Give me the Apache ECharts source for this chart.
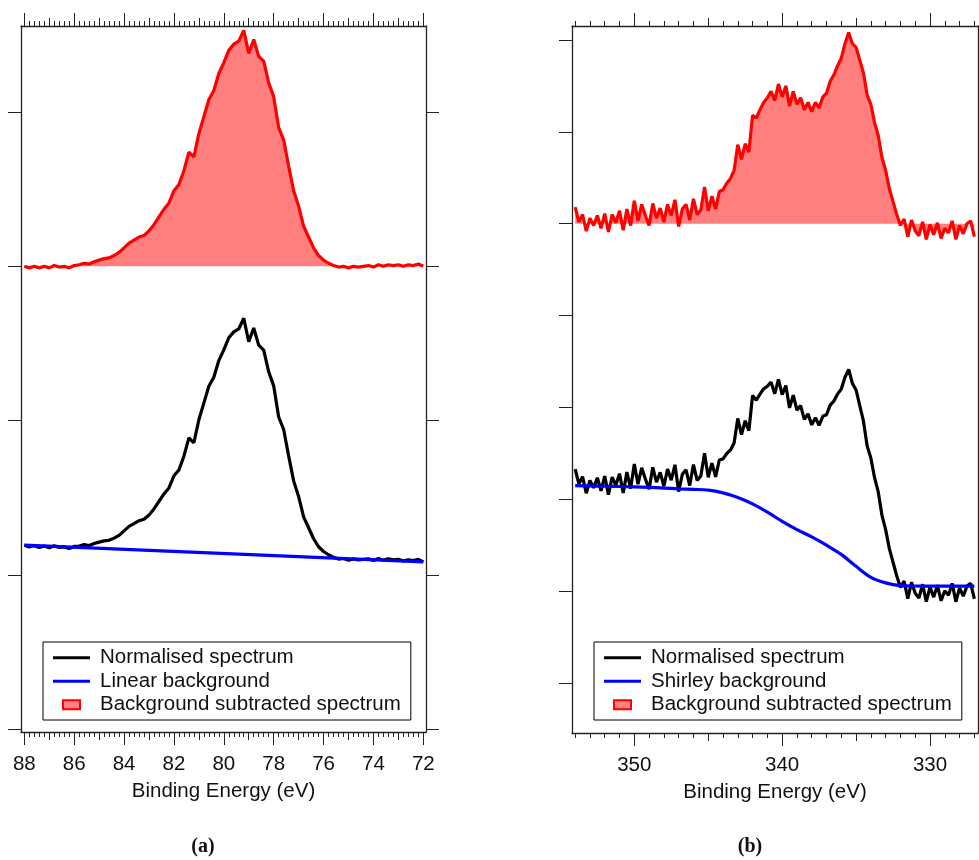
<!DOCTYPE html>
<html><head><meta charset="utf-8">
<script src="https://cdn.jsdelivr.net/npm/echarts@6/dist/echarts.min.js"></script>
<style>html,body{margin:0;padding:0;background:#fff}#c{width:979px;height:860px}</style>
</head><body><div id="c"></div>
<script>
// ---------------- DATA ----------------
// Panel (a): binding energies 88 -> 72 eV, 0.2 eV step
const energyA = Array.from({length: 81}, (_, i) => +(88 - 0.2 * i).toFixed(1));
const normA = [
  1.192, 1.181, 1.189, 1.178, 1.187, 1.175, 1.189, 1.178, 1.181, 1.170,
  1.184, 1.187, 1.196, 1.190, 1.203, 1.212, 1.220, 1.224, 1.238, 1.256,
  1.285, 1.314, 1.332, 1.351, 1.360, 1.388, 1.427, 1.476, 1.524, 1.563,
  1.642, 1.680, 1.769, 1.888, 1.856, 2.005, 2.113, 2.222, 2.281, 2.389,
  2.458, 2.537, 2.575, 2.594, 2.663, 2.511, 2.600, 2.489, 2.457, 2.316,
  2.225, 2.023, 1.942, 1.771, 1.609, 1.508, 1.376, 1.305, 1.234, 1.182,
  1.151, 1.130, 1.113, 1.102, 1.106, 1.094, 1.103, 1.097, 1.100, 1.104,
  1.093, 1.106, 1.095, 1.104, 1.097, 1.101, 1.089, 1.098, 1.092, 1.100,
  1.084
];
const subA = [
  3.000, 2.990, 3.000, 2.990, 3.000, 2.990, 3.005, 2.995, 3.000, 2.990,
  3.005, 3.010, 3.020, 3.015, 3.030, 3.040, 3.050, 3.055, 3.070, 3.090,
  3.120, 3.150, 3.170, 3.190, 3.200, 3.230, 3.270, 3.320, 3.370, 3.410,
  3.490, 3.530, 3.620, 3.740, 3.710, 3.860, 3.970, 4.080, 4.140, 4.250,
  4.320, 4.400, 4.440, 4.460, 4.530, 4.380, 4.470, 4.360, 4.330, 4.190,
  4.100, 3.900, 3.820, 3.650, 3.490, 3.390, 3.260, 3.190, 3.120, 3.070,
  3.040, 3.020, 3.005, 2.995, 3.000, 2.990, 3.000, 2.995, 3.000, 3.005,
  2.995, 3.010, 3.000, 3.010, 3.005, 3.010, 3.000, 3.010, 3.005, 3.015,
  3.000
];
const subBaseA = 3;
const linBgX = [88, 72];
const linBgY = [1.192, 1.084];

// Panel (b): binding energies 354 -> 327 eV, 0.25 eV step
const energyB = Array.from({length: 109}, (_, i) => +(354 - 0.25 * i).toFixed(2));
const normB = [
  2.328, 2.167, 2.247, 2.066, 2.205, 2.124, 2.234, 2.093,
  2.252, 2.051, 2.241, 2.150, 2.279, 2.068, 2.297, 2.116,
  2.385, 2.164, 2.343, 2.221, 2.110, 2.348, 2.186, 2.294,
  2.142, 2.330, 2.208, 2.376, 2.084, 2.273, 2.321, 2.150,
  2.378, 2.206, 2.254, 2.502, 2.240, 2.393, 2.245, 2.428,
  2.440, 2.498, 2.535, 2.613, 2.880, 2.703, 2.855, 2.748,
  3.130, 3.078, 3.145, 3.203, 3.230, 3.275, 3.150, 3.305,
  3.140, 3.238, 2.995, 3.133, 2.970, 3.020, 2.870, 2.930,
  2.810, 2.888, 2.805, 2.903, 2.920, 3.025, 3.070, 3.145,
  3.200, 3.328, 3.415, 3.263, 3.190, 3.020, 2.850, 2.580,
  2.450, 2.235, 2.080, 1.825, 1.670, 1.463, 1.315, 1.168,
  1.040, 1.109, 0.918, 1.097, 0.976, 0.925, 1.075, 0.885,
  1.045, 0.935, 1.065, 0.895, 1.005, 0.955, 1.085, 0.885,
  1.035, 0.945, 1.055, 1.085, 0.915
];
const subB = [
  5.18, 5.02, 5.10, 4.92, 5.06, 4.98, 5.09, 4.95,
  5.11, 4.91, 5.10, 5.01, 5.14, 4.93, 5.16, 4.98,
  5.25, 5.03, 5.21, 5.09, 4.98, 5.22, 5.06, 5.17,
  5.02, 5.21, 5.09, 5.26, 4.97, 5.16, 5.21, 5.04,
  5.27, 5.10, 5.15, 5.40, 5.14, 5.30, 5.16, 5.35,
  5.37, 5.44, 5.49, 5.58, 5.86, 5.70, 5.87, 5.78,
  6.18, 6.15, 6.24, 6.32, 6.37, 6.44, 6.34, 6.52,
  6.38, 6.50, 6.28, 6.44, 6.30, 6.37, 6.24, 6.32,
  6.22, 6.32, 6.26, 6.38, 6.42, 6.55, 6.62, 6.72,
  6.80, 6.96, 7.08, 6.96, 6.92, 6.78, 6.64, 6.40,
  6.30, 6.10, 5.96, 5.72, 5.58, 5.38, 5.24, 5.10,
  4.98, 5.05, 4.86, 5.04, 4.92, 4.87, 5.02, 4.83,
  4.99, 4.88, 5.01, 4.84, 4.95, 4.90, 5.03, 4.83,
  4.98, 4.89, 5.00, 5.03, 4.86
];
const subBaseB = 5;
const shirleyX = [354, 353, 352, 351, 350, 349, 348, 347, 346, 345, 344, 343, 342, 341,
                  340, 339, 338, 337, 336, 335, 334, 333, 332, 331, 330, 329, 328, 327];
const shirleyY = [2.148, 2.145, 2.142, 2.139, 2.135, 2.130, 2.122, 2.114, 2.108, 2.100, 2.070, 2.020, 1.950, 1.860,
                  1.760, 1.670, 1.590, 1.500, 1.400, 1.270, 1.150, 1.090, 1.060, 1.056, 1.055, 1.055, 1.055, 1.055];

// tick labels
const tickLabelsA = [88, 86, 84, 82, 80, 78, 76, 74, 72];
const midTicksA = [87, 85, 83, 81, 79, 77, 75, 73];
const tickLabelsB = [350, 340, 330];
const midTicksB = [350, 345, 340, 335, 330];
const yTicksA = [0, 1, 2, 3, 4];
const yTicksB = [0, 1, 2, 3, 4, 5, 6, 7];
const minorTicksA = Array.from({length: 81}, (_, i) => +(72 + 0.2 * i).toFixed(1));
const minorTicksB = Array.from({length: 28}, (_, i) => 327 + i);

const xTitle = 'Binding Energy (eV)';
const nameNorm = 'Normalised spectrum';
const nameLin = 'Linear background';
const nameShirley = 'Shirley background';
const nameSub = 'Background subtracted spectrum';
const captions = ['(a)', '(b)'];

// ---------------- CHART ----------------
const FONT = '"Liberation Sans", Arial, sans-serif';
const FRAME = '#222';
const zip = (xs, ys) => xs.map((x, i) => [x, ys[i]]);

function xAxesFor(grid, min, max, major, mid, minor) {
  const base = {type: 'value', gridIndex: grid, min, max, inverse: true, splitLine: {show: false}};
  const mk = (pos, vals, len, main) => Object.assign({}, base, {
    position: pos,
    axisLine: {show: main, onZero: false, lineStyle: {color: FRAME, width: 1.3}},
    axisTick: {show: true, customValues: vals, length: len, lineStyle: {color: FRAME, width: 1}},
    axisLabel: (main && pos === 'bottom') ? {show: true, customValues: major, margin: 22,
        fontFamily: FONT, fontSize: 20.5, color: '#111', lineHeight: 21} : {show: false},
    name: (main && pos === 'bottom') ? xTitle : '',
    nameLocation: 'middle', nameGap: 49,
    nameTextStyle: {fontFamily: FONT, fontSize: 20.5, color: '#111', lineHeight: 21}
  });
  return [mk('bottom', major, 13, true), mk('bottom', mid, 8, false), mk('bottom', minor, 5, false),
          mk('top', major, 13, true), mk('top', mid, 8, false), mk('top', minor, 5, false)];
}
function yAxesFor(grid, min, max, ticks) {
  const mk = (pos) => ({type: 'value', gridIndex: grid, min, max, position: pos,
    splitLine: {show: false},
    axisLine: {show: true, onZero: false, lineStyle: {color: FRAME, width: 1.3}},
    axisTick: {show: true, customValues: ticks, length: 13, lineStyle: {color: FRAME, width: 1}},
    axisLabel: {show: false}});
  return [mk('left'), mk('right')];
}

const xAxes = [].concat(
  xAxesFor(0, 71.892, 88.132, tickLabelsA, midTicksA, minorTicksA),
  xAxesFor(1, 326.753, 354.214, tickLabelsB, midTicksB, minorTicksB));
const yAxes = [].concat(
  yAxesFor(0, -0.019, 4.558, yTicksA),
  yAxesFor(1, -0.544, 7.152, yTicksB));

const LINE_ICON = 'path://M0,0M42,11M0,4H37V7H0Z';
const BOX_ICON = 'path://M0,0M42,11M10,1H27V10H10Z';
function legendFor(left, bgName) {
  return {
    left: left, top: 642, orient: 'vertical', padding: [4, 10, 3.5, 9],
    borderColor: '#000', borderWidth: 1, backgroundColor: '#fff',
    itemWidth: 42, itemHeight: 11, itemGap: 0, selectedMode: false,
    symbolKeepAspect: true,
    textStyle: {fontFamily: FONT, fontSize: 20.5, color: '#111', lineHeight: 23.5},
    data: [
      {name: nameNorm, icon: LINE_ICON, itemStyle: {color: '#000', borderWidth: 0}},
      {name: bgName, icon: LINE_ICON, itemStyle: {color: '#0000ff', borderWidth: 0}},
      {name: nameSub, icon: BOX_ICON, itemStyle: {color: '#ff8080', borderColor: '#ff0000', borderWidth: 2}}
    ]
  };
}

const lineSeries = (name, data, color, xi, yi, extra) => Object.assign({
  name, type: 'line', data, xAxisIndex: xi, yAxisIndex: yi, showSymbol: false, symbol: 'none',
  color, lineStyle: {color, width: 3.2}, animation: false, silent: true
}, extra || {});

const option = {
  animation: false,
  textStyle: {fontFamily: FONT},
  grid: [
    {left: 21, top: 26, width: 405, height: 706},
    {left: 572, top: 26, width: 406, height: 707}
  ],
  xAxis: xAxes,
  yAxis: yAxes,
  legend: [legendFor(43, nameLin), legendFor(594, nameShirley)],
  series: [
    lineSeries(nameSub, zip(energyA, subA), '#ff0000', 0, 0,
      {areaStyle: {origin: subBaseA, color: 'rgba(255,0,0,0.5)', opacity: 1}}),
    lineSeries(nameNorm, zip(energyA, normA), '#000000', 0, 0),
    lineSeries(nameLin, zip(linBgX, linBgY), '#0000ff', 0, 0),
    lineSeries(nameSub, zip(energyB, subB), '#ff0000', 6, 2,
      {areaStyle: {origin: subBaseB, color: 'rgba(255,0,0,0.5)', opacity: 1}}),
    lineSeries(nameNorm, zip(energyB, normB), '#000000', 6, 2),
    lineSeries(nameShirley, zip(shirleyX, shirleyY), '#0000ff', 6, 2, {smooth: 0.3})
  ],
  graphic: [
    {type: 'text', x: 203, y: 847, style: {text: captions[0], align: 'center', verticalAlign: 'middle',
      font: 'bold 20px "Liberation Serif", serif', fill: '#111'}},
    {type: 'text', x: 750, y: 847, style: {text: captions[1], align: 'center', verticalAlign: 'middle',
      font: 'bold 20px "Liberation Serif", serif', fill: '#111'}}
  ]
};
const chart = echarts.init(document.getElementById('c'), null, {renderer: 'canvas'});
chart.setOption(option);
</script></body></html>
